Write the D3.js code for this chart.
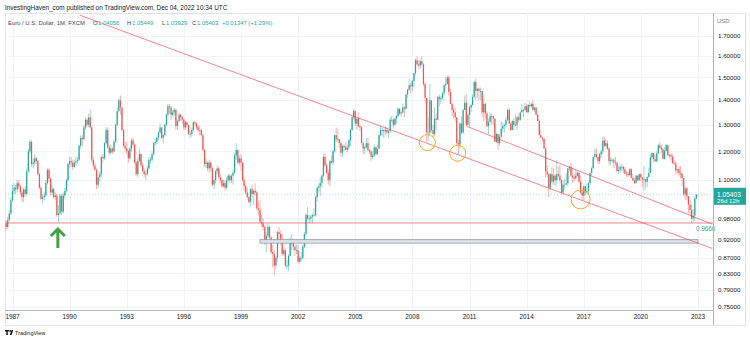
<!DOCTYPE html>
<html>
<head>
<meta charset="utf-8">
<script src="https://cdn.jsdelivr.net/npm/d3@7"></script>
<style>
  body { margin: 0; background: #fff; }
  svg { display: block; font-family: "Liberation Sans", Arial, sans-serif; }
</style>
</head>
<body>
<script>
// EUR/USD monthly candles (FXCM), Sep 1986 .. Dec 2022
var firstMonth = new Date(1986, 8, 1);
var firstOpen = 0.965;

var closes = [
  0.955, 0.975, 0.995, 1.035,
  1.065, 1.075, 1.07, 1.09, 1.08, 1.06, 1.045, 1.07, 1.055, 1.13, 1.20, 1.235,
  1.155, 1.16, 1.175, 1.165, 1.12, 1.075, 1.04, 1.045, 1.05, 1.09, 1.135, 1.105,
  1.06, 1.07, 1.045, 1.05, 0.99, 0.995, 1.05, 1.00, 1.05, 1.065, 1.10, 1.155,
  1.165, 1.16, 1.145, 1.16, 1.165, 1.17, 1.22, 1.25, 1.245, 1.29, 1.32, 1.30,
  1.33, 1.29, 1.17, 1.15, 1.135, 1.085, 1.11, 1.12, 1.18, 1.175, 1.23, 1.28,
  1.215, 1.195, 1.21, 1.20, 1.235, 1.30, 1.355, 1.40, 1.37, 1.28, 1.22, 1.21,
  1.20, 1.175, 1.21, 1.24, 1.225, 1.16, 1.12, 1.165, 1.19, 1.15, 1.13, 1.12,
  1.12, 1.14, 1.17, 1.17, 1.19, 1.23, 1.235, 1.25, 1.27, 1.29, 1.25, 1.26,
  1.30, 1.34, 1.375, 1.37, 1.34, 1.35, 1.36, 1.295, 1.315, 1.34, 1.33, 1.32,
  1.29, 1.31, 1.30, 1.265, 1.265, 1.28, 1.31, 1.305, 1.29, 1.28, 1.28, 1.26,
  1.205, 1.155, 1.16, 1.14, 1.16, 1.14, 1.085, 1.10, 1.13, 1.14, 1.11, 1.10,
  1.08, 1.09, 1.075, 1.10, 1.115, 1.10, 1.115, 1.125, 1.185, 1.205, 1.16, 1.175,
  1.16, 1.10, 1.08, 1.06, 1.045, 1.03, 1.07, 1.055, 1.065, 1.06, 1.01, 1.005,
  0.97, 0.965, 0.955, 0.91, 0.93, 0.955, 0.925, 0.885, 0.88, 0.85, 0.87, 0.94,
  0.935, 0.92, 0.88, 0.89, 0.85, 0.85, 0.875, 0.91, 0.91, 0.90, 0.89, 0.89,
  0.86, 0.87, 0.87, 0.90, 0.935, 0.99, 0.98, 0.98, 0.985, 0.99, 0.99, 1.045,
  1.075, 1.08, 1.09, 1.115, 1.18, 1.15, 1.125, 1.10, 1.165, 1.16, 1.20, 1.26,
  1.245, 1.245, 1.23, 1.195, 1.22, 1.215, 1.205, 1.215, 1.24, 1.28, 1.33, 1.355,
  1.305, 1.325, 1.295, 1.29, 1.23, 1.21, 1.215, 1.23, 1.205, 1.20, 1.18, 1.185,
  1.215, 1.19, 1.21, 1.26, 1.28, 1.28, 1.275, 1.28, 1.27, 1.275, 1.32, 1.32,
  1.30, 1.325, 1.335, 1.365, 1.345, 1.35, 1.37, 1.365, 1.425, 1.445, 1.465, 1.46,
  1.485, 1.52, 1.58, 1.56, 1.555, 1.575, 1.56, 1.47, 1.41, 1.27, 1.27, 1.40,
  1.28, 1.265, 1.325, 1.32, 1.415, 1.405, 1.41, 1.43, 1.465, 1.47, 1.50, 1.435,
  1.385, 1.36, 1.35, 1.33, 1.23, 1.225, 1.305, 1.27, 1.36, 1.39, 1.30, 1.34,
  1.37, 1.38, 1.415, 1.48, 1.44, 1.45, 1.44, 1.44, 1.35, 1.385, 1.345, 1.295,
  1.31, 1.335, 1.335, 1.325, 1.235, 1.265, 1.23, 1.255, 1.285, 1.295, 1.30, 1.32,
  1.36, 1.305, 1.28, 1.315, 1.30, 1.30, 1.33, 1.32, 1.35, 1.36, 1.36, 1.375,
  1.35, 1.38, 1.375, 1.385, 1.36, 1.37, 1.34, 1.315, 1.26, 1.25, 1.245, 1.21,
  1.13, 1.12, 1.075, 1.12, 1.095, 1.115, 1.10, 1.12, 1.115, 1.10, 1.06, 1.085,
  1.085, 1.09, 1.14, 1.145, 1.115, 1.11, 1.105, 1.115, 1.125, 1.095, 1.06, 1.05,
  1.08, 1.06, 1.065, 1.09, 1.125, 1.14, 1.18, 1.19, 1.18, 1.165, 1.19, 1.20,
  1.24, 1.22, 1.23, 1.21, 1.165, 1.17, 1.17, 1.16, 1.16, 1.13, 1.135, 1.145,
  1.145, 1.137, 1.122, 1.121, 1.117, 1.137, 1.108, 1.099, 1.09, 1.115, 1.10, 1.12,
  1.109, 1.103, 1.103, 1.095, 1.11, 1.124, 1.178, 1.194, 1.172, 1.165, 1.193, 1.222,
  1.213, 1.207, 1.173, 1.202, 1.223, 1.186, 1.187, 1.181, 1.158, 1.156, 1.133, 1.137,
  1.123, 1.122, 1.107, 1.054, 1.073, 1.048, 1.022, 1.005, 0.980, 0.988, 1.04056, 1.05403
];

var highs = [
  0.975, 0.985, 1.005, 1.045,
  1.085, 1.09, 1.085, 1.10, 1.10, 1.085, 1.065, 1.075, 1.08, 1.14, 1.21, 1.245,
  1.24, 1.175, 1.19, 1.18, 1.17, 1.125, 1.08, 1.055, 1.06, 1.10, 1.14, 1.14,
  1.11, 1.085, 1.075, 1.06, 1.055, 1.02, 1.055, 1.055, 1.06, 1.075, 1.105, 1.16,
  1.18, 1.18, 1.17, 1.17, 1.18, 1.18, 1.225, 1.26, 1.26, 1.30, 1.33, 1.325,
  1.345, 1.36, 1.29, 1.18, 1.16, 1.14, 1.12, 1.13, 1.185, 1.19, 1.235, 1.29,
  1.29, 1.225, 1.225, 1.215, 1.245, 1.305, 1.37, 1.41, 1.42, 1.37, 1.285, 1.235,
  1.235, 1.205, 1.22, 1.25, 1.25, 1.23, 1.165, 1.175, 1.21, 1.195, 1.16, 1.14,
  1.135, 1.15, 1.18, 1.18, 1.20, 1.235, 1.245, 1.255, 1.275, 1.305, 1.29, 1.265,
  1.305, 1.345, 1.385, 1.385, 1.375, 1.36, 1.37, 1.365, 1.32, 1.35, 1.345, 1.335,
  1.325, 1.315, 1.315, 1.30, 1.275, 1.29, 1.315, 1.315, 1.31, 1.30, 1.295, 1.285,
  1.265, 1.21, 1.175, 1.165, 1.17, 1.165, 1.145, 1.105, 1.135, 1.15, 1.145, 1.12,
  1.105, 1.10, 1.10, 1.11, 1.12, 1.12, 1.12, 1.135, 1.195, 1.23, 1.21, 1.185,
  1.19, 1.16, 1.11, 1.085, 1.075, 1.05, 1.075, 1.085, 1.07, 1.09, 1.065, 1.03,
  1.035, 0.99, 0.98, 0.96, 0.94, 0.965, 0.96, 0.93, 0.905, 0.89, 0.875, 0.945,
  0.955, 0.945, 0.935, 0.90, 0.895, 0.865, 0.88, 0.925, 0.935, 0.92, 0.905, 0.905,
  0.905, 0.875, 0.885, 0.905, 0.94, 0.995, 1.015, 0.99, 0.99, 0.995, 1.01, 1.05,
  1.08, 1.09, 1.11, 1.12, 1.19, 1.195, 1.16, 1.135, 1.17, 1.185, 1.205, 1.262,
  1.29, 1.285, 1.245, 1.235, 1.225, 1.225, 1.235, 1.225, 1.245, 1.285, 1.335, 1.365,
  1.36, 1.325, 1.35, 1.30, 1.295, 1.235, 1.22, 1.25, 1.25, 1.21, 1.205, 1.20,
  1.225, 1.215, 1.225, 1.265, 1.295, 1.29, 1.285, 1.295, 1.29, 1.28, 1.33, 1.335,
  1.325, 1.325, 1.34, 1.37, 1.365, 1.355, 1.385, 1.375, 1.425, 1.45, 1.495, 1.475,
  1.49, 1.52, 1.59, 1.60, 1.58, 1.585, 1.60, 1.565, 1.48, 1.41, 1.33, 1.47,
  1.40, 1.30, 1.37, 1.345, 1.415, 1.425, 1.42, 1.435, 1.47, 1.50, 1.51, 1.51,
  1.45, 1.39, 1.37, 1.37, 1.33, 1.245, 1.31, 1.335, 1.365, 1.42, 1.425, 1.345,
  1.375, 1.385, 1.425, 1.485, 1.495, 1.45, 1.455, 1.455, 1.435, 1.42, 1.39, 1.355,
  1.325, 1.35, 1.345, 1.335, 1.325, 1.27, 1.265, 1.265, 1.315, 1.31, 1.305, 1.33,
  1.365, 1.37, 1.31, 1.32, 1.325, 1.345, 1.335, 1.345, 1.355, 1.385, 1.365, 1.39,
  1.385, 1.385, 1.395, 1.39, 1.40, 1.37, 1.37, 1.345, 1.32, 1.28, 1.255, 1.25,
  1.215, 1.15, 1.125, 1.125, 1.145, 1.14, 1.12, 1.17, 1.145, 1.15, 1.105, 1.10,
  1.105, 1.125, 1.14, 1.15, 1.16, 1.14, 1.12, 1.135, 1.13, 1.125, 1.115, 1.075,
  1.085, 1.08, 1.09, 1.095, 1.125, 1.145, 1.18, 1.21, 1.21, 1.18, 1.195, 1.205,
  1.255, 1.255, 1.245, 1.24, 1.215, 1.18, 1.175, 1.175, 1.18, 1.16, 1.15, 1.15,
  1.155, 1.149, 1.145, 1.13, 1.127, 1.141, 1.14, 1.12, 1.105, 1.118, 1.11, 1.122,
  1.123, 1.105, 1.149, 1.102, 1.114, 1.142, 1.191, 1.197, 1.188, 1.188, 1.20, 1.228,
  1.235, 1.224, 1.211, 1.215, 1.227, 1.225, 1.191, 1.19, 1.191, 1.169, 1.161, 1.138,
  1.148, 1.149, 1.118, 1.108, 1.079, 1.077, 1.036, 1.037, 1.022, 1.009, 1.049, 1.05449
];

var lows = [
  0.945, 0.950, 0.970, 0.990,
  1.03, 1.055, 1.055, 1.06, 1.07, 1.05, 1.03, 1.03, 1.045, 1.05, 1.125, 1.19,
  1.145, 1.14, 1.15, 1.155, 1.115, 1.07, 1.035, 1.025, 1.035, 1.045, 1.085, 1.095,
  1.05, 1.05, 1.04, 1.035, 0.985, 0.967, 0.99, 0.99, 0.995, 1.04, 1.06, 1.095,
  1.14, 1.145, 1.135, 1.14, 1.15, 1.155, 1.165, 1.21, 1.22, 1.24, 1.28, 1.29,
  1.29, 1.285, 1.16, 1.14, 1.13, 1.07, 1.075, 1.095, 1.11, 1.16, 1.17, 1.225,
  1.21, 1.185, 1.19, 1.19, 1.195, 1.23, 1.295, 1.35, 1.34, 1.275, 1.215, 1.20,
  1.19, 1.16, 1.17, 1.20, 1.215, 1.155, 1.115, 1.11, 1.16, 1.145, 1.125, 1.11,
  1.10, 1.115, 1.135, 1.155, 1.16, 1.185, 1.22, 1.225, 1.24, 1.265, 1.245, 1.23,
  1.255, 1.295, 1.335, 1.345, 1.32, 1.33, 1.335, 1.28, 1.28, 1.31, 1.315, 1.305,
  1.28, 1.28, 1.29, 1.26, 1.25, 1.255, 1.275, 1.295, 1.28, 1.27, 1.26, 1.255,
  1.20, 1.145, 1.14, 1.13, 1.125, 1.13, 1.08, 1.07, 1.09, 1.12, 1.105, 1.09,
  1.075, 1.075, 1.065, 1.07, 1.095, 1.09, 1.09, 1.085, 1.12, 1.17, 1.155, 1.15,
  1.13, 1.095, 1.065, 1.055, 1.04, 1.025, 1.015, 1.045, 1.02, 1.05, 1.005, 0.99,
  0.965, 0.955, 0.945, 0.905, 0.885, 0.925, 0.92, 0.88, 0.845, 0.825, 0.84, 0.86,
  0.915, 0.905, 0.875, 0.875, 0.845, 0.84, 0.835, 0.875, 0.89, 0.89, 0.875, 0.88,
  0.855, 0.855, 0.86, 0.865, 0.895, 0.93, 0.975, 0.965, 0.97, 0.965, 0.985, 0.985,
  1.03, 1.06, 1.05, 1.075, 1.11, 1.145, 1.12, 1.085, 1.08, 1.155, 1.15, 1.195,
  1.235, 1.235, 1.21, 1.18, 1.18, 1.20, 1.205, 1.195, 1.205, 1.22, 1.275, 1.32,
  1.295, 1.28, 1.29, 1.275, 1.23, 1.19, 1.19, 1.21, 1.20, 1.19, 1.165, 1.17,
  1.18, 1.185, 1.185, 1.21, 1.255, 1.255, 1.25, 1.26, 1.265, 1.25, 1.27, 1.31,
  1.285, 1.295, 1.305, 1.33, 1.34, 1.33, 1.345, 1.33, 1.36, 1.41, 1.44, 1.43,
  1.44, 1.455, 1.51, 1.555, 1.54, 1.54, 1.555, 1.46, 1.39, 1.235, 1.24, 1.26,
  1.27, 1.25, 1.255, 1.28, 1.32, 1.375, 1.385, 1.40, 1.42, 1.45, 1.47, 1.42,
  1.385, 1.335, 1.325, 1.315, 1.22, 1.19, 1.21, 1.265, 1.265, 1.36, 1.295, 1.30,
  1.29, 1.35, 1.38, 1.41, 1.40, 1.41, 1.40, 1.40, 1.33, 1.315, 1.325, 1.29,
  1.265, 1.31, 1.30, 1.30, 1.235, 1.23, 1.205, 1.22, 1.25, 1.27, 1.27, 1.29,
  1.315, 1.305, 1.275, 1.28, 1.28, 1.295, 1.28, 1.31, 1.315, 1.35, 1.33, 1.355,
  1.35, 1.35, 1.37, 1.37, 1.355, 1.35, 1.34, 1.315, 1.26, 1.25, 1.235, 1.21,
  1.11, 1.11, 1.045, 1.07, 1.085, 1.085, 1.08, 1.085, 1.11, 1.09, 1.055, 1.055,
  1.07, 1.085, 1.08, 1.13, 1.11, 1.09, 1.095, 1.105, 1.11, 1.09, 1.055, 1.035,
  1.035, 1.05, 1.055, 1.055, 1.085, 1.115, 1.14, 1.17, 1.175, 1.155, 1.155, 1.175,
  1.19, 1.215, 1.21, 1.205, 1.15, 1.15, 1.16, 1.14, 1.15, 1.13, 1.12, 1.125,
  1.13, 1.123, 1.121, 1.11, 1.111, 1.116, 1.108, 1.098, 1.088, 1.09, 1.098, 1.098,
  1.096, 1.078, 1.064, 1.073, 1.077, 1.117, 1.124, 1.171, 1.161, 1.162, 1.16, 1.19,
  1.209, 1.195, 1.171, 1.17, 1.20, 1.184, 1.175, 1.166, 1.156, 1.152, 1.119, 1.122,
  1.112, 1.106, 1.081, 1.047, 1.035, 1.036, 0.995, 0.990, 0.966, 0.970, 0.973, 1.03929
];

var priceTicks = [1.7, 1.6, 1.5, 1.4, 1.3, 1.2, 1.1, 0.98, 0.92, 0.87, 0.83, 0.79, 0.75];
var yearTicks = [1987, 1990, 1993, 1996, 1999, 2002, 2005, 2008, 2011, 2014, 2017, 2020, 2023];

var lastPrice = 1.05403;
var supportLevel = 0.9666;

// drawings on the chart (date, price)
var trendLines = [
  [["1990-07-15", 1.81], ["2023-10-01", 0.895]],
  [["2010-11-01", 1.295], ["2023-10-01", 0.963]]
];
var supportBox = [["2000-01-01", 0.919], ["2023-01-01", 0.9095]];
var circleMarks = [["2008-10-15", 1.232, 8], ["2010-05-20", 1.193, 8], ["2016-11-01", 1.038, 9.5]];
var arrowMark = ["1989-05-20", 0.949];

var W = 750, H = 342;
var pane = { left: 5, right: 713, top: 13, bottom: 310 };
var up = "#26a69a", down = "#ef5350";
var parse = d3.timeParse("%Y-%m-%d");

var svg = d3.select("body").append("svg")
  .attr("width", W)
  .attr("height", H);

var x = d3.scaleTime()
  .domain([new Date(1987, 0, 1), new Date(2023, 0, 1)])
  .range([12.5, 698]);

var y = d3.scaleLog()
  .domain([0.75, 1.7])
  .range([307, 36]);

// frame
svg.append("rect")
  .attr("x", pane.left + 0.5).attr("y", pane.top + 0.5)
  .attr("width", 745 - pane.left).attr("height", 325 - pane.top)
  .attr("fill", "none").attr("stroke", "#e0e3eb");

svg.append("defs").append("clipPath").attr("id", "clip")
  .append("rect")
  .attr("x", pane.left).attr("y", pane.top)
  .attr("width", pane.right - pane.left).attr("height", pane.bottom - pane.top);

// grid
var grid = svg.append("g").attr("stroke", "#f0f3fa").attr("stroke-width", 1);
grid.selectAll(".gy").data(priceTicks).enter().append("line")
  .attr("x1", pane.left).attr("x2", pane.right)
  .attr("y1", function(d) { return Math.round(y(d)) + 0.5; })
  .attr("y2", function(d) { return Math.round(y(d)) + 0.5; });
grid.selectAll(".gx").data(yearTicks).enter().append("line")
  .attr("y1", pane.top).attr("y2", pane.bottom)
  .attr("x1", function(d) { return Math.round(x(new Date(d, 0, 1))) + 0.5; })
  .attr("x2", function(d) { return Math.round(x(new Date(d, 0, 1))) + 0.5; });

// candles
var candles = closes.map(function(c, i) {
  var o = i === 0 ? firstOpen : closes[i - 1];
  return {
    date: new Date(firstMonth.getFullYear(), firstMonth.getMonth() + i, 1),
    o: o, c: c,
    h: Math.max(highs[i], o, c),
    l: Math.min(lows[i], o, c)
  };
});

var plot = svg.append("g").attr("clip-path", "url(#clip)");

// last price dotted line
plot.append("line")
  .attr("x1", pane.left).attr("x2", pane.right)
  .attr("y1", y(lastPrice)).attr("y2", y(lastPrice))
  .attr("stroke", up).attr("stroke-opacity", 0.35)
  .attr("stroke-dasharray", "1,2");

plot.selectAll(".wick").data(candles).enter().append("line")
  .attr("x1", function(d) { return x(d.date); })
  .attr("x2", function(d) { return x(d.date); })
  .attr("y1", function(d) { return y(d.h); })
  .attr("y2", function(d) { return y(d.l); })
  .attr("stroke", function(d) { return d.c >= d.o ? up : down; })
  .attr("stroke-opacity", 0.45)
  .attr("stroke-width", 1);

plot.selectAll(".body").data(candles).enter().append("rect")
  .attr("x", function(d) { return x(d.date) - 0.6; })
  .attr("width", 1.2)
  .attr("y", function(d) { return y(Math.max(d.o, d.c)); })
  .attr("height", function(d) { return Math.max(0.8, Math.abs(y(d.o) - y(d.c))); })
  .attr("fill", function(d) { return d.c >= d.o ? up : down; });

// support level
plot.append("line")
  .attr("x1", pane.left).attr("x2", pane.right)
  .attr("y1", y(supportLevel)).attr("y2", y(supportLevel))
  .attr("stroke", "#f23645").attr("stroke-opacity", 0.6);

// box
plot.append("rect")
  .attr("x", x(parse(supportBox[0][0])))
  .attr("y", y(supportBox[0][1]))
  .attr("width", x(parse(supportBox[1][0])) - x(parse(supportBox[0][0])))
  .attr("height", y(supportBox[1][1]) - y(supportBox[0][1]))
  .attr("fill", "#e0e3eb").attr("stroke", "#9598a1").attr("stroke-width", 0.8);

// trend lines
plot.selectAll(".trend").data(trendLines).enter().append("line")
  .attr("x1", function(d) { return x(parse(d[0][0])); })
  .attr("y1", function(d) { return y(d[0][1]); })
  .attr("x2", function(d) { return x(parse(d[1][0])); })
  .attr("y2", function(d) { return y(d[1][1]); })
  .attr("stroke", "#f23645").attr("stroke-opacity", 0.6).attr("stroke-width", 1);

// circles
plot.selectAll(".circ").data(circleMarks).enter().append("circle")
  .attr("cx", function(d) { return x(parse(d[0])); })
  .attr("cy", function(d) { return y(d[1]); })
  .attr("r", function(d) { return d[2]; })
  .attr("fill", "none").attr("stroke", "#ffa726").attr("stroke-width", 1);

// arrow
var ax = x(parse(arrowMark[0])), ay = y(arrowMark[1]);
plot.append("path")
  .attr("d", "M" + ax + "," + (ay + 19) + "V" + (ay + 1) + "M" + (ax - 7) + "," + (ay + 7) + "L" + ax + "," + ay + "L" + (ax + 7) + "," + (ay + 7))
  .attr("fill", "none").attr("stroke", "#43a047").attr("stroke-width", 3)
  .attr("stroke-linecap", "butt").attr("stroke-linejoin", "miter");

// support label
svg.append("text")
  .attr("x", 696).attr("y", y(supportLevel) + 8)
  .attr("font-size", 6.3).attr("fill", "#22ab94")
  .text(supportLevel.toFixed(4));

// axes lines
svg.append("line").attr("x1", pane.right + 0.5).attr("x2", pane.right + 0.5)
  .attr("y1", pane.top).attr("y2", 325).attr("stroke", "#b2b5be");
svg.append("line").attr("x1", pane.left).attr("x2", pane.right)
  .attr("y1", pane.bottom + 0.5).attr("y2", pane.bottom + 0.5).attr("stroke", "#b2b5be");

// price axis
svg.append("g").selectAll("text").data(priceTicks).enter().append("text")
  .attr("x", 718).attr("y", function(d) { return y(d) + 2.2; })
  .attr("font-size", 6.2).attr("fill", "#131722")
  .text(function(d) { return d.toFixed(5); });
svg.append("text").attr("x", 717).attr("y", 23).attr("font-size", 6)
  .attr("fill", "#787b86").text("USD");

// last price tag
var ly = y(lastPrice);
svg.append("rect").attr("x", pane.right + 1).attr("y", ly - 6.5)
  .attr("width", 32).attr("height", 17).attr("fill", up);
svg.append("text").attr("x", 717).attr("y", ly + 2.2).attr("font-size", 6.6)
  .attr("fill", "#fff").text(lastPrice.toFixed(5));
svg.append("text").attr("x", 717).attr("y", ly + 8.8).attr("font-size", 6.2)
  .attr("fill", "#fff").text("26d 12h");

// time axis
svg.append("g").selectAll("text").data(yearTicks).enter().append("text")
  .attr("x", function(d) { return x(new Date(d, 0, 1)); })
  .attr("y", 319).attr("text-anchor", "middle")
  .attr("font-size", 6.4).attr("fill", "#131722")
  .text(function(d) { return d; });

// header
svg.append("text").attr("x", 5).attr("y", 9.5).attr("font-size", 6.4)
  .attr("fill", "#131722")
  .text("InvestingHaven_com published on TradingView.com, Dec 04, 2022 10:34 UTC");

var legend = [
  { x: 8, t: "Euro / U.S. Dollar, 1M, FXCM", c: "#434651" },
  { x: 93, t: "O", c: "#434651" }, { x: 98, t: "1.04056", c: up },
  { x: 127, t: "H", c: "#434651" }, { x: 132, t: "1.05449", c: up },
  { x: 162, t: "L", c: "#434651" }, { x: 166, t: "1.03929", c: up },
  { x: 192, t: "C", c: "#434651" }, { x: 197, t: "1.05403", c: up },
  { x: 222, t: "+0.01347 (+1.29%)", c: up }
];
svg.append("g").selectAll("text").data(legend).enter().append("text")
  .attr("x", function(d) { return d.x; }).attr("y", 25)
  .attr("font-size", 5.9).attr("fill", function(d) { return d.c; })
  .text(function(d) { return d.t; });

// tradingview logo
var logo = svg.append("g").attr("transform", "translate(5,330)");
logo.append("path").attr("d", "M0,0H4V1.5H2.8V5H1.3V1.5H0Z").attr("fill", "#131722");
logo.append("circle").attr("cx", 5.2).attr("cy", 1).attr("r", 0.9).attr("fill", "#131722");
logo.append("path").attr("d", "M6.5,0H8.3L6.6,5H4.8Z").attr("fill", "#131722");
logo.append("text").attr("x", 10).attr("y", 4.8).attr("font-size", 5.5)
  .attr("fill", "#131722").text("TradingView");
</script>
</body>
</html>
